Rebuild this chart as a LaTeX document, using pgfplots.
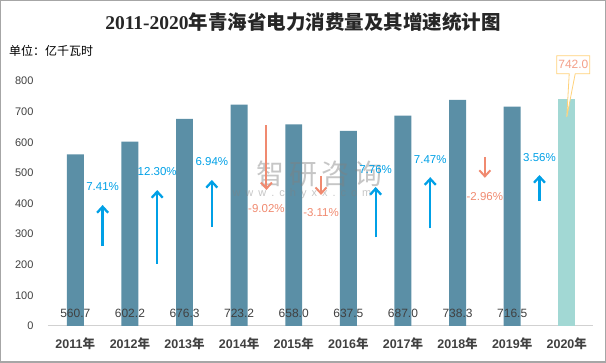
\documentclass[border=0pt]{standalone}
\usepackage{pgfplots}
\pgfplotsset{compat=1.18}
\usepackage{fontspec}
\setmainfont{Liberation Sans}
\newfontfamily\cjk{Noto Sans CJK SC}
\newfontfamily\serifb{Liberation Serif}
\usetikzlibrary{arrows.meta,shapes.callouts}
\definecolor{barc}{HTML}{5B8FA6}
\definecolor{bar20}{HTML}{A2D8D4}
\definecolor{upc}{HTML}{00A0E6}
\definecolor{dnc}{HTML}{F08A70}
\definecolor{txt}{HTML}{404040}
\definecolor{framec}{HTML}{A6A6A6}
\definecolor{callb}{HTML}{FFD27A}
\definecolor{callt}{HTML}{F4A08A}
\newcommand{\yr}[1]{\bfseries #1{\cjk\bfseries 年}}
\begin{document}
\begin{tikzpicture}[x=1pt,y=1pt]
\draw[framec, line width=1.5pt] (-47.25,-36.25) rectangle (557.25,325.25);
\node[text=black!85] at (255,304) {\fontsize{19.5}{21}\selectfont\bfseries\serifb 2011-2020\cjk\bfseries 年青海省电力消费量及其增速统计图};
\node[anchor=west, inner sep=0pt] at (-39,275) {\cjk\fontsize{12}{14}\selectfont 单位：亿千瓦时};
\begin{axis}[at={(0,0)}, anchor=south west, scale only axis,
  width=545pt, height=245pt,
  xmin=-0.5, xmax=9.48, ymin=0, ymax=800, clip=false,
  axis x line*=bottom, axis y line*=left,
  y axis line style={draw=none},
  x axis line style={draw=black!18, line width=1pt, -},
  major tick length=0pt,
  xtick={0,...,9},
  xticklabels={\yr{2011},\yr{2012},\yr{2013},\yr{2014},\yr{2015},\yr{2016},\yr{2017},\yr{2018},\yr{2019},\yr{2020}},
  xticklabel style={font=\fontsize{12.5}{14}\selectfont, text=txt, yshift=-8pt},
  ytick={0,100,...,800},
  yticklabel style={font=\fontsize{11}{12}\selectfont, text=txt, xshift=-11pt},
  /pgf/number format/assume math mode=true,
]
\addplot[ybar, bar width=0.31, bar shift=0pt, fill=barc, draw=none] coordinates {(0,560.7)(1,602.2)(2,676.3)(3,723.2)(4,658.0)(5,637.5)(6,687.0)(7,738.3)(8,716.5)};
\addplot[ybar, bar width=0.31, bar shift=0pt, fill=bar20, draw=none] coordinates {(9,742.0)};
% bar value labels
\addplot[draw=none, mark=none, nodes near coords, point meta=explicit symbolic,
  nodes near coords style={anchor=center, font=\fontsize{12}{13}\selectfont, text=txt}]
  coordinates {(0,42)[560.7] (1,42)[602.2] (2,42)[676.3] (3,42)[723.2] (4,42)[658.0] (5,42)[637.5] (6,42)[687.0] (7,42)[738.3] (8,42)[716.5]};
% watermark
\node[text=gray, opacity=0.45, font=\cjk\fontsize{28}{29}\selectfont] at (axis cs:4.47,495) {智\,研\,咨\,询};
\node[text=gray, opacity=0.45, font=\fontsize{11}{12}\selectfont] at (axis cs:4.15,431) {w\hspace{5pt}w\hspace{5pt}w\hspace{5pt}.\hspace{5pt}c\hspace{5pt}h\hspace{5pt}y\hspace{5pt}x\hspace{5pt}x\hspace{5pt}.\hspace{5pt}c\hspace{5pt}o\hspace{5pt}m};
% up arrows
\addplot[upc, line width=2.3pt, -{Straight Barb[length=6pt,width=11pt]}] coordinates {(0.5,261)(0.5,395)};
\addplot[upc, line width=2.3pt, -{Straight Barb[length=6pt,width=11pt]}] coordinates {(1.5,203)(1.5,444)};
\addplot[upc, line width=2.3pt, -{Straight Barb[length=6pt,width=11pt]}] coordinates {(2.5,324)(2.5,477)};
\addplot[upc, line width=2.3pt, -{Straight Barb[length=6pt,width=11pt]}] coordinates {(5.5,289)(5.5,454)};
\addplot[upc, line width=2.3pt, -{Straight Barb[length=6pt,width=11pt]}] coordinates {(6.5,319)(6.5,486)};
\addplot[upc, line width=2.3pt, -{Straight Barb[length=6pt,width=11pt]}] coordinates {(8.5,408)(8.5,493)};
% down arrows
\addplot[dnc, line width=2pt, -{Straight Barb[length=6pt,width=11pt]}] coordinates {(3.5,655)(3.5,444)};
\addplot[dnc, line width=2pt, -{Straight Barb[length=6pt,width=11pt]}] coordinates {(4.5,490)(4.5,428)};
\addplot[dnc, line width=2pt, -{Straight Barb[length=6pt,width=11pt]}] coordinates {(7.5,552)(7.5,484)};
% growth labels
\addplot[draw=none, mark=none, nodes near coords, point meta=explicit symbolic,
  nodes near coords style={anchor=center, font=\fontsize{11.5}{13}\selectfont, text=upc}]
  coordinates {(0.5,454)[7.41\%] (1.5,503)[12.30\%] (2.5,536)[6.94\%] (5.5,512)[7.76\%] (6.5,544)[7.47\%] (8.5,549)[3.56\%]};
\addplot[draw=none, mark=none, nodes near coords, point meta=explicit symbolic,
  nodes near coords style={anchor=center, font=\fontsize{11.5}{13}\selectfont, text=dnc}]
  coordinates {(3.5,382)[-9.02\%] (4.5,369)[-3.11\%] (7.5,422)[-2.96\%]};
% callout
\node[rectangle callout, draw=callb, fill=white, line width=0.8pt, text=callt,
  font=\fontsize{12}{13}\selectfont, minimum width=33pt, minimum height=18pt, inner sep=1pt,
  callout pointer width=6pt, callout absolute pointer={(axis cs:9,683)}] at (axis cs:9.12,853) {742.0};
\end{axis}
\end{tikzpicture}
\end{document}
